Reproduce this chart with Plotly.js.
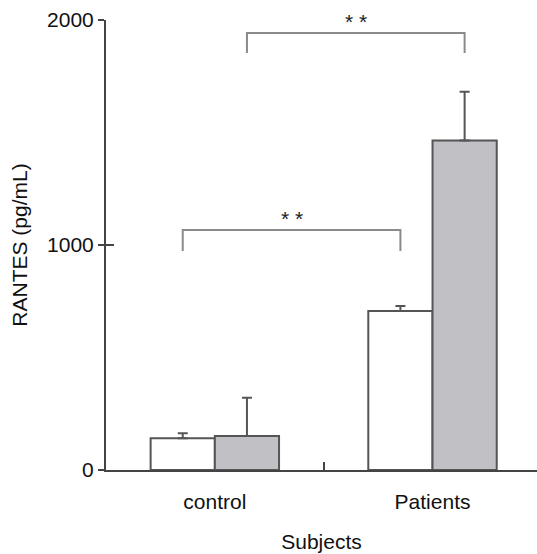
<!DOCTYPE html>
<html>
<head>
<meta charset="utf-8">
<script src="https://cdn.plot.ly/plotly-3.0.1.min.js"></script>
<style>
html,body{margin:0;padding:0;background:#fff;}
#chart{width:537px;height:554px;}
</style>
</head>
<body>
<div id="chart"></div>
<script>
// ---- data ----
const categories = ['control', 'Patients'];
const seriesA = [141, 707];      // white bars
const seriesAErr = [22, 22];
const seriesB = [151, 1464];     // grey bars
const seriesBErr = [170, 217];
const yTicks = [0, 1000, 2000];
// significance brackets: which series, bracket level, label
const bracketSeries = [0, 1];
const bracketLevel = [1067, 1942];
const bracketDrop = [94, 89];
const bracketLabel = ['* *', '* *'];

// ---- styles ----
const FONT = 'Liberation Sans, Arial, sans-serif';
const EDGE = '#555555';
const bargap = 0.41;
const barW = (1 - bargap) / 2;

function bar(y, err, fill) {
  return {
    type: 'bar', x: categories, y: y,
    marker: {color: fill, line: {color: EDGE, width: 2}},
    error_y: {type: 'data', symmetric: false, array: err, arrayminus: err.map(() => 0),
              color: EDGE, thickness: 2, width: 5},
    hoverinfo: 'skip', showlegend: false
  };
}

const traces = [bar(seriesA, seriesAErr, '#ffffff'), bar(seriesB, seriesBErr, '#c1c1c5')];

const shapes = [];
const annotations = [];
bracketSeries.forEach((s, i) => {
  const off = (s - 0.5) * barW;
  const x0 = 0 + off, x1 = 1 + off;
  const yt = bracketLevel[i], yb = yt - bracketDrop[i];
  shapes.push({type: 'path', xref: 'x', yref: 'y',
    path: `M ${x0},${yb} L ${x0},${yt} L ${x1},${yt} L ${x1},${yb}`,
    line: {color: '#8a8a8a', width: 2}});
  annotations.push({xref: 'x', yref: 'y', x: (x0 + x1) / 2, y: yt, yanchor: 'bottom', yshift: -2,
    text: bracketLabel[i], showarrow: false, font: {family: FONT, size: 21, color: '#222'}});
});

const layout = {
  width: 537, height: 554,
  margin: {l: 106, r: 0, t: 20, b: 84},
  paper_bgcolor: '#fff', plot_bgcolor: '#fff',
  barmode: 'group', bargap: bargap, bargroupgap: 0,
  font: {family: FONT, size: 21, color: '#111'},
  xaxis: {
    type: 'category', range: [-0.5, 1.48], tickson: 'boundaries',
    ticks: 'inside', ticklen: 8, tickwidth: 2, tickcolor: '#444',
    showline: true, linecolor: '#444', linewidth: 2, showgrid: false, zeroline: false,
    ticklabelstandoff: 12,
    title: {text: 'Subjects', font: {family: FONT, size: 21}, standoff: 22},
    tickfont: {family: FONT, size: 21}
  },
  yaxis: {
    range: [0, 2000], tickvals: yTicks, ticktext: yTicks.map(String),
    ticks: 'outside', ticklen: 6, tickwidth: 2, tickcolor: '#444',
    showline: true, linecolor: '#444', linewidth: 2, showgrid: false, zeroline: false,
    title: {text: 'RANTES (pg/mL)', font: {family: FONT, size: 21}, standoff: 14},
    tickfont: {family: FONT, size: 21}
  },
  yaxis2: {
    overlaying: 'y', side: 'left', range: [0, 2000], tickvals: yTicks,
    ticks: 'inside', ticklen: 8, tickwidth: 2, tickcolor: '#444',
    showticklabels: false, showline: false, showgrid: false, zeroline: false
  },
  shapes: shapes,
  annotations: annotations
};

// dummy trace to activate yaxis2
traces.push({type: 'scatter', x: [], y: [], yaxis: 'y2', showlegend: false, hoverinfo: 'skip'});

Plotly.newPlot('chart', traces, layout, {displayModeBar: false, staticPlot: true});
</script>
</body>
</html>
